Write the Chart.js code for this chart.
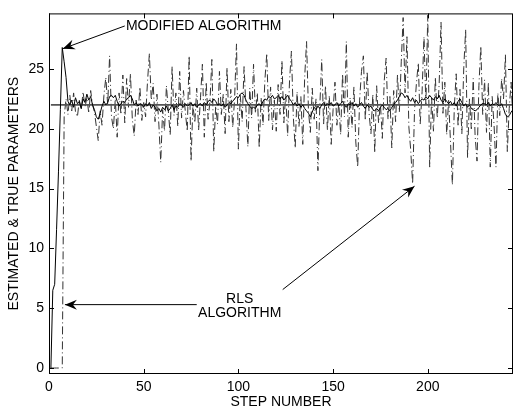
<!DOCTYPE html>
<html>
<head>
<meta charset="utf-8">
<script src="https://cdn.jsdelivr.net/npm/chart.js@4.4.1/dist/chart.umd.min.js"></script>
<style>
  html, body { margin: 0; padding: 0; background: #fff; }
  #wrap { width: 514px; height: 414px; }
</style>
</head>
<body>
<div id="wrap"><canvas id="chart_params"></canvas></div>
<script>
// step numbers 1..245
const steps = [];
for (let i = 1; i <= 245; i++) steps.push(i);

// RLS algorithm estimate (dash-dot)
const rlsValues = [
  0, 0, 0, 0, 0, 0, 0,
  21.0, 22.5, 21.2, 22.8, 21.5, 23.0, 21.4, 21.0, 22.4, 21.6,
  23.1, 21.8, 22.6, 21.3, 23.2, 22.0, 21.4,
  20.2, 19.0, 21.5, 20.3, 22.8, 24.3, 22.0, 26.1, 21.0, 20.0,
  22.5, 19.3, 23.0, 21.2, 24.5, 20.5, 24.2, 21.8, 24.6, 20.8,
  19.4, 22.4, 21.2, 23.5, 20.7, 22.2,
  21.0, 23.9, 26.3, 22.4, 23.8, 20.6, 22.9, 20.4, 17.2, 21.6,
  19.8, 23.6, 21.5, 19.5, 25.2, 21.1, 23.0, 20.2, 24.8, 20.9,
  23.2, 21.4, 19.8, 26.1, 17.3, 22.0, 20.5, 23.4, 19.9, 22.6,
  25.4, 19.3, 23.9, 20.8, 22.3, 25.8, 18.1, 21.9, 20.4, 24.8,
  21.2, 22.9, 19.6, 25.1, 20.6, 23.3, 20.1, 22.5, 27.1, 18.3,
  22.8, 20.6, 25.2, 21.7, 18.5, 23.4, 20.9, 25.4, 21.3, 23.0,
  18.4, 22.6, 20.3, 24.1, 26.3, 20.7, 23.5, 19.9, 22.4, 19.8,
  23.7, 21.2, 25.7, 20.5, 22.9, 19.4, 24.0, 26.5, 21.0, 18.4,
  23.1, 20.2, 22.7, 18.7, 24.3, 27.3, 21.5, 19.7, 23.4, 20.8,
  22.5, 16.5, 21.9, 25.8, 20.4, 23.6, 19.9, 22.8, 18.7, 21.6,
  23.9, 20.3, 22.2, 19.5, 24.6, 21.0, 27.3, 19.3, 22.6, 20.1,
  23.5, 18.9, 16.8, 22.4, 24.8, 26.1, 20.7, 24.8, 21.3, 19.6,
  22.9, 18.0, 23.6, 20.5, 22.1, 19.2, 24.0, 25.9, 20.8, 22.7,
  18.4, 23.2, 20.6, 24.5, 21.4, 25.6, 29.3, 23.0, 27.7, 20.2,
  18.2, 15.4, 21.5, 23.8, 25.5, 20.4, 23.1, 27.7, 22.0, 29.5,
  16.8, 22.6, 19.8, 24.3, 20.9, 23.7, 28.9, 21.3, 23.9, 19.5,
  22.4, 18.9, 15.3, 21.8, 24.6, 20.2, 23.3, 19.6, 25.1, 28.3,
  17.6, 22.5, 20.0, 24.2, 19.4, 17.3, 23.6, 26.9, 21.2, 24.1,
  19.7, 23.9, 16.8, 22.7, 20.3, 16.8, 23.0, 21.1, 24.2, 22.5,
  26.2, 18.1, 21.7, 23.9, 20.6
];

// modified algorithm estimate (solid)
const modifiedValues = [
  0, 6.5, 7.0, 11.6, 16.4, 21.6, 26.8, 25.6, 24.3, 22.3,
  22.0, 22.4, 21.8, 22.6, 22.1, 22.3, 21.7, 22.5, 22.2, 22.9,
  22.4, 22.7, 22.0, 21.6, 21.0,
  20.8, 21.3, 21.9, 22.3, 22.0, 22.2, 22.7, 22.8, 22.6, 22.8,
  22.3, 21.9, 22.1, 22.3, 22.2, 22.5, 22.6, 22.8, 22.5, 22.0,
  22.2, 21.9, 22.1, 22.0, 21.8,
  22.1, 21.9, 22.2, 21.7, 22.0, 21.8, 21.5, 21.7, 21.4, 21.8,
  21.6, 21.9, 21.5, 21.7, 22.0, 21.6, 21.9, 21.8, 22.1, 22.0,
  21.8, 22.1, 21.9, 22.0, 22.2, 21.9, 22.1, 21.8, 22.0, 22.1,
  21.9, 22.2, 22.0, 22.3, 22.4, 22.2, 22.5, 22.3, 22.0, 22.1,
  21.9, 22.1, 21.8, 22.0, 22.2, 22.1, 22.3, 22.5, 22.7, 22.6,
  22.9, 23.0, 22.8, 22.4, 22.1, 21.9, 21.7, 21.8, 21.7, 22.0,
  22.1, 21.9, 22.3, 22.5, 22.4, 22.7, 22.6, 22.8, 22.5, 22.6,
  22.8, 22.5, 22.7, 22.4, 22.6, 22.8, 22.5, 22.3, 22.0, 22.2,
  21.9, 22.1, 21.8, 22.0, 21.7, 21.5, 21.3, 21.0, 21.4, 21.8,
  21.6, 21.9, 21.7, 22.0, 22.2, 21.9, 22.1, 22.0, 22.2, 21.9,
  22.0, 22.2, 21.9, 22.1, 22.3, 22.0, 21.8, 22.1, 22.0, 22.2,
  21.9, 22.1, 21.8, 22.0, 22.2, 21.9, 21.7, 22.0, 21.8, 21.9,
  21.6, 21.5, 21.7, 21.5, 21.8, 22.0, 21.8, 21.6, 21.7, 21.5,
  21.8, 22.0, 22.2, 22.4, 22.7, 23.0, 22.9, 22.6, 22.8, 22.5,
  22.3, 22.6, 22.2, 22.4, 22.1, 22.3, 22.5, 22.4, 22.7, 22.5,
  22.8, 22.6, 22.4, 22.7, 22.5, 22.8, 22.4, 22.2, 22.5, 22.3,
  22.1, 22.3, 22.0, 22.2, 21.9, 22.3, 22.5, 22.2, 21.9, 22.1,
  21.8, 22.0, 21.7, 21.6, 21.5, 21.6, 21.8, 22.0, 22.1, 22.1,
  22.0, 22.2, 21.9, 22.1, 22.0, 22.2, 22.0, 21.9, 22.1, 21.7,
  21.2, 21.0, 21.1, 21.4, 21.6
];

// true parameter
const trueSteps = [1, 245];
const trueValues = [22, 22];

const xTickValues = [0, 50, 100, 150, 200];
const yTickValues = [0, 5, 10, 15, 20, 25];

// annotations, in data units
const notes = [
  { text: "MODIFIED ALGORITHM", x: 40.6, y: 28.6, align: "left" },
  { text: "RLS", x: 100.7, y: 5.8, align: "center" },
  { text: "ALGORITHM", x: 100.7, y: 4.55, align: "center" }
];
const arrows = [
  { from: [40.0, 28.6], to: [7.3, 26.7] },
  { from: [78.0, 5.3], to: [8.4, 5.3] },
  { from: [123.4, 6.56], to: [193.0, 15.2] }
];

const FONT = "'Liberation Sans', Arial, Helvetica, sans-serif";

function toXY(xs, ys) {
  return ys.map((v, i) => ({ x: xs[i], y: v }));
}

const frame = {
  id: "frame",
  afterDatasetsDraw(chart) {
    const { ctx, chartArea: a, scales } = chart;
    ctx.save();
    ctx.strokeStyle = "#000";
    ctx.lineWidth = 1;
    ctx.strokeRect(a.left + 0.5, a.top + 0.5, a.right - a.left - 1, a.bottom - a.top - 1);
    ctx.beginPath();
    xTickValues.forEach((v) => {
      const px = Math.round(scales.x.getPixelForValue(v)) + 0.5;
      ctx.moveTo(px, a.bottom); ctx.lineTo(px, a.bottom - 5);
      ctx.moveTo(px, a.top); ctx.lineTo(px, a.top + 5);
    });
    yTickValues.forEach((v) => {
      const py = Math.round(scales.y.getPixelForValue(v)) + 0.5;
      ctx.moveTo(a.left, py); ctx.lineTo(a.left + 5, py);
      ctx.moveTo(a.right, py); ctx.lineTo(a.right - 5, py);
    });
    ctx.stroke();

    // annotation text
    ctx.fillStyle = "#000";
    ctx.font = "14px " + FONT;
    ctx.textBaseline = "middle";
    notes.forEach((n) => {
      ctx.textAlign = n.align;
      ctx.fillText(n.text, scales.x.getPixelForValue(n.x), scales.y.getPixelForValue(n.y));
    });

    // arrows with notched heads
    arrows.forEach((ar) => {
      const x0 = scales.x.getPixelForValue(ar.from[0]);
      const y0 = scales.y.getPixelForValue(ar.from[1]);
      const x1 = scales.x.getPixelForValue(ar.to[0]);
      const y1 = scales.y.getPixelForValue(ar.to[1]);
      ctx.beginPath();
      ctx.moveTo(x0, y0);
      ctx.lineTo(x1, y1);
      ctx.stroke();
      const ang = Math.atan2(y1 - y0, x1 - x0);
      const len = 12, wid = 5, notch = 8;
      const bx = x1 - len * Math.cos(ang), by = y1 - len * Math.sin(ang);
      const nx = x1 - notch * Math.cos(ang), ny = y1 - notch * Math.sin(ang);
      ctx.beginPath();
      ctx.moveTo(x1, y1);
      ctx.lineTo(bx + wid * Math.sin(ang), by - wid * Math.cos(ang));
      ctx.lineTo(nx, ny);
      ctx.lineTo(bx - wid * Math.sin(ang), by + wid * Math.cos(ang));
      ctx.closePath();
      ctx.fill();
    });
    ctx.restore();
  }
};

const ctxParams = document.getElementById("chart_params").getContext("2d");
const chartParams = new Chart(ctxParams, {
  type: "line",
  data: {
    datasets: [
      {
        label: "Modified algorithm",
        data: toXY(steps, modifiedValues),
        borderColor: "#000",
        borderWidth: 1,
        pointRadius: 0,
        tension: 0,
        fill: false
      },
      {
        label: "True parameter",
        data: toXY(trueSteps, trueValues),
        borderColor: "#555",
        borderWidth: 1.8,
        pointRadius: 0,
        fill: false
      },
      {
        label: "RLS algorithm",
        data: toXY(steps, rlsValues),
        borderColor: "#333",
        borderWidth: 1,
        borderDash: [8, 3, 1, 3],
        pointRadius: 0,
        tension: 0,
        fill: false
      }
    ]
  },
  options: {
    animation: false,
    responsive: true,
    maintainAspectRatio: false,
    layout: { padding: { top: 6, right: 1, left: 0, bottom: 0 } },
    plugins: {
      legend: { display: false },
      tooltip: { enabled: false }
    },
    scales: {
      x: {
        type: "linear",
        min: 0,
        max: 245,
        grid: { display: false, drawTicks: false },
        border: { display: false },
        afterBuildTicks: (s) => { s.ticks = xTickValues.map((v) => ({ value: v })); },
        afterFit: (s) => { s.height = 40; },
        ticks: {
          color: "#000",
          padding: 5,
          maxRotation: 0,
          font: { family: FONT, size: 14 }
        },
        title: {
          display: true,
          text: "STEP NUMBER",
          color: "#000",
          padding: { top: 0, bottom: 3 },
          font: { family: FONT, size: 14 }
        }
      },
      y: {
        type: "linear",
        min: -0.5,
        max: 29.65,
        grid: { display: false, drawTicks: false },
        border: { display: false },
        afterBuildTicks: (s) => { s.ticks = yTickValues.map((v) => ({ value: v })); },
        afterFit: (s) => { s.width = 49; },
        ticks: {
          color: "#000",
          padding: 5,
          font: { family: FONT, size: 14 }
        },
        title: {
          display: true,
          text: "ESTIMATED & TRUE PARAMETERS",
          color: "#000",
          padding: { top: 5.6, bottom: 0 },
          font: { family: FONT, size: 14 }
        }
      }
    }
  },
  plugins: [frame]
});
</script>
</body>
</html>
